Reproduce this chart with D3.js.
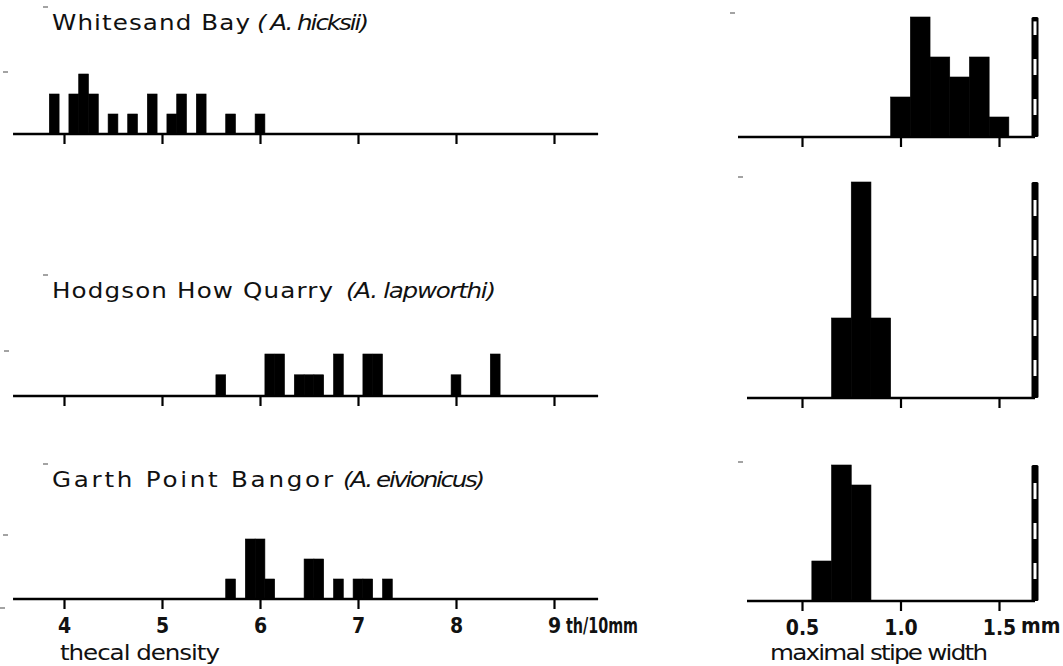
<!DOCTYPE html>
<html>
<head>
<meta charset="utf-8">
<script src="https://cdn.jsdelivr.net/npm/d3@7"></script>
<style>
  html, body { margin: 0; padding: 0; background: #fff; }
  svg { display: block; }
  .title { font-family: "DejaVu Sans", sans-serif; font-size: 20.5px; fill: #111; }
  .num { font-family: "Liberation Sans Narrow", "DejaVu Sans Condensed", sans-serif; font-weight: bold; font-size: 21px; fill: #111; }
</style>
</head>
<body>
<svg id="chart" width="1063" height="666"></svg>
<script>
// Localities and species names
const localities = ["Whitesand Bay", "Hodgson How Quarry", "Garth Point Bangor"];
const species = ["( A. hicksii)", "(A. lapworthi)", "(A. eivionicus)"];

// Thecal density (thecae per 10 mm): class midpoints (0.1 wide) and frequency (%)
const densityWhitesand = [3.9, 4.1, 4.2, 4.3, 4.5, 4.7, 4.9, 5.1, 5.2, 5.4, 5.7, 6.0];
const freqDensityWhitesand = [10, 10, 15, 10, 5, 5, 10, 5, 10, 10, 5, 5];
const densityHodgson = [5.6, 6.1, 6.2, 6.4, 6.5, 6.6, 6.8, 7.1, 7.2, 8.0, 8.4];
const freqDensityHodgson = [5.3, 10.5, 10.5, 5.3, 5.3, 5.3, 10.5, 10.5, 10.5, 5.3, 10.5];
const densityGarth = [5.7, 5.9, 6.0, 6.1, 6.5, 6.6, 6.8, 7.0, 7.1, 7.3];
const freqDensityGarth = [5, 15, 15, 5, 10, 10, 5, 5, 5, 5];

// Maximal stipe width (mm): class midpoints (0.1 wide) and frequency (%)
const widthWhitesand = [1.0, 1.1, 1.2, 1.3, 1.4, 1.5];
const freqWidthWhitesand = [10, 30, 20, 15, 20, 5];
const widthHodgson = [0.7, 0.8, 0.9];
const freqWidthHodgson = [20, 54, 20];
const widthGarth = [0.6, 0.7, 0.8];
const freqWidthGarth = [10, 34, 29];

// Axis ticks
const densityTicks = [4, 5, 6, 7, 8, 9];
const widthTicks = [0.5, 1.0, 1.5];
const densityUnit = "th/10mm";
const widthUnit = "mm";
const densityLabel = "thecal density";
const widthLabel = "maximal stipe width";

const svg = d3.select("#chart");
svg.append("rect").attr("width", 1063).attr("height", 666).attr("fill", "#fff");

const classWidth = 0.1;
const stretch = 1.2; // lettering is drawn extended

// Place a run of lettering from x0 to x0 + len on baseline y
function lettering(x0, y, len, str, cls, italic) {
  const t = svg.append("text").attr("class", cls)
    .attr("transform", `translate(${x0},${y}) scale(${stretch},1)`)
    .attr("textLength", len / stretch).attr("lengthAdjust", "spacing")
    .text(str);
  if (italic) t.attr("font-style", "italic");
  return t;
}

// Horizontal scales (shared by all rows)
const xDensity = d3.scaleLinear().domain([4, 9]).range([64, 554]);
const xWidth = d3.scaleLinear().domain([0.5, 1.5]).range([802, 999]);
// Vertical scale: frequency (%) to bar height in px
const hScale = d3.scaleLinear().domain([0, 10]).range([0, 40]);

const rows = [
  { left: densityWhitesand, leftF: freqDensityWhitesand, right: widthWhitesand, rightF: freqWidthWhitesand,
    baseL: 134, baseR: 137, titleY: 30, nameW: 198, spW: 112, spX: 257, rStart: 738 },
  { left: densityHodgson, leftF: freqDensityHodgson, right: widthHodgson, rightF: freqWidthHodgson,
    baseL: 396, baseR: 398, titleY: 298, nameW: 281, spW: 150, spX: 346, rStart: 747 },
  { left: densityGarth, leftF: freqDensityGarth, right: widthGarth, rightF: freqWidthGarth,
    baseL: 599, baseR: 601, titleY: 487, nameW: 281, spW: 142, spX: 343, rStart: 747 }
];

rows.forEach((r, i) => {
  const last = i === rows.length - 1;

  // Title: locality + italic species
  lettering(52, r.titleY, r.nameW, localities[i], "title", false);
  lettering(r.spX, r.titleY, r.spW, species[i], "title", true);

  // ---- Thecal density histogram ----
  const gL = svg.append("g");
  gL.selectAll("rect.bar").data(d3.zip(r.left, r.leftF)).join("rect")
    .attr("class", "bar")
    .attr("x", d => xDensity(d[0] - classWidth / 2))
    .attr("width", d => xDensity(d[0] + classWidth / 2) - xDensity(d[0] - classWidth / 2))
    .attr("y", d => r.baseL - hScale(d[1]))
    .attr("height", d => hScale(d[1]))
    .attr("fill", "#000")
    .attr("stroke", "#000").attr("stroke-width", 0.6);

  const axL = d3.axisBottom(xDensity).tickValues(densityTicks).tickSize(10).tickSizeOuter(0)
    .tickFormat(last ? d3.format("d") : () => "");
  const aL = gL.append("g").attr("transform", `translate(0,${r.baseL})`).call(axL);
  aL.select(".domain").remove();
  aL.selectAll(".tick line").attr("stroke", "#000").attr("stroke-width", 2.2);
  aL.selectAll(".tick text").attr("class", "num").attr("y", 0).attr("dy", null)
    .attr("transform", "translate(0,34)").attr("font-family", null).attr("font-size", null);
  gL.append("line")
    .attr("x1", xDensity(3.48)).attr("x2", xDensity(9.45))
    .attr("y1", r.baseL).attr("y2", r.baseL)
    .attr("stroke", "#000").attr("stroke-width", 2.4);

  // ---- Stipe width histogram ----
  const gR = svg.append("g");
  gR.selectAll("rect.bar").data(d3.zip(r.right, r.rightF)).join("rect")
    .attr("class", "bar")
    .attr("x", d => xWidth(d[0] - classWidth / 2))
    .attr("width", d => xWidth(d[0] + classWidth / 2) - xWidth(d[0] - classWidth / 2))
    .attr("y", d => r.baseR - hScale(d[1]))
    .attr("height", d => hScale(d[1]))
    .attr("fill", "#000")
    .attr("stroke", "#000").attr("stroke-width", 0.6);

  const axR = d3.axisBottom(xWidth).tickValues(widthTicks).tickSize(10).tickSizeOuter(0)
    .tickFormat(last ? d3.format(".1f") : () => "");
  const aR = gR.append("g").attr("transform", `translate(0,${r.baseR})`).call(axR);
  aR.select(".domain").remove();
  aR.selectAll(".tick line").attr("stroke", "#000").attr("stroke-width", 2.2);
  aR.selectAll(".tick text").attr("class", "num").attr("y", 0).attr("dy", null)
    .attr("transform", "translate(0,34)").attr("font-family", null).attr("font-size", null);
  const barX = 1035;
  gR.append("line")
    .attr("x1", r.rStart).attr("x2", barX)
    .attr("y1", r.baseR).attr("y2", r.baseR)
    .attr("stroke", "#000").attr("stroke-width", 2.4);

  // Frequency scale bar: height of the largest class, banded every 5 %
  const fMax = d3.max(r.rightF);
  gR.append("rect")
    .attr("x", barX - 3.5).attr("width", 7)
    .attr("y", r.baseR - hScale(fMax)).attr("height", hScale(fMax))
    .attr("rx", 1.5).attr("fill", "#000");
  const bands = d3.range(5, fMax, 10).filter(v => v + 1 < fMax);
  gR.selectAll("rect.band").data(bands).join("rect")
    .attr("class", "band")
    .attr("x", barX - 1.5).attr("width", 3)
    .attr("y", v => r.baseR - hScale(Math.min(v + 5, fMax - 0.6)) + 2)
    .attr("height", v => hScale(Math.min(v + 5, fMax - 0.6)) - hScale(v) - 4)
    .attr("fill", "#fff");
});

// Units and axis labels under the bottom row
svg.append("text").attr("class", "num")
  .attr("x", xDensity(9) + 12).attr("y", 633)
  .attr("textLength", 72).attr("lengthAdjust", "spacingAndGlyphs")
  .text(densityUnit);
svg.append("text").attr("class", "num")
  .attr("x", xWidth(1.5) + 22).attr("y", 633).text(widthUnit);
lettering(60, 660, 160, densityLabel, "title", false);
lettering(770, 660, 218, widthLabel, "title", false);

// Small corner marks
const marks = [[3, 72], [4, 351], [3, 535], [0, 608], [43, 7], [43, 275], [43, 464], [730, 13], [738, 177], [738, 462]];
svg.append("g").selectAll("line").data(marks).join("line")
  .attr("x1", d => d[0]).attr("x2", d => d[0] + 5)
  .attr("y1", d => d[1]).attr("y2", d => d[1])
  .attr("stroke", "#666").attr("stroke-width", 1.2);
</script>
</body>
</html>
